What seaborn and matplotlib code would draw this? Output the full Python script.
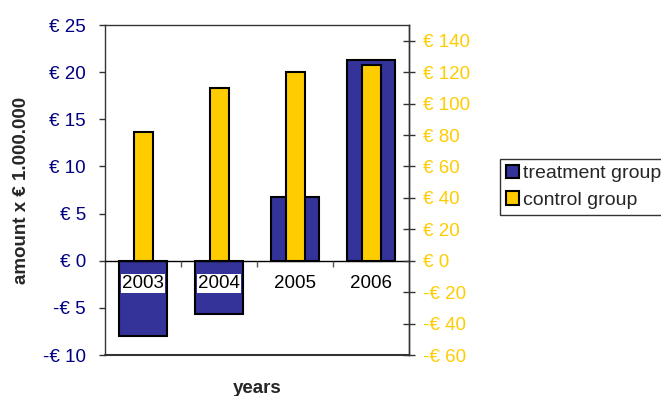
import matplotlib
matplotlib.use("Agg")
import matplotlib.pyplot as plt
from matplotlib.patches import Patch
import seaborn as sns
import pandas as pd

years = ["2003", "2004", "2005", "2006"]
treatment = [-8.0, -5.6, 6.75, 21.3]        # left axis, € x 1.000.000
control = [82, 110, 120, 124.5]             # right axis, € x 1.000.000
left_ticks = [-10, -5, 0, 5, 10, 15, 20, 25]
right_ticks = [-60, -40, -20, 0, 20, 40, 60, 80, 100, 120, 140]

BLUE = "#333399"
GOLD = "#FFCC00"
NAVY = "#000080"
FS = 13.5

sns.set_theme(style="white")
plt.rcParams["font.family"] = ["Liberation Sans", "DejaVu Sans"]


def euro(v):
    return f"€ {v}" if v >= 0 else f"-€ {abs(v)}"


df = pd.DataFrame({"year": years, "treatment": treatment, "control": control})

fig = plt.figure(figsize=(6.61, 3.96), dpi=100)
ax = fig.add_axes([105 / 661, 1 - 355 / 396, 304 / 661, 330 / 396])
ax2 = ax.twinx()

sns.barplot(data=df, x="year", y="treatment", ax=ax, color=BLUE, saturation=1,
            width=0.62, edgecolor="black", linewidth=1.5)
sns.barplot(data=df, x="year", y="control", ax=ax2, color=GOLD, saturation=1,
            width=0.25, edgecolor="black", linewidth=1.5)

ax.set_xlim(-0.5, 3.5)
ax.set_ylim(-10, 25)
ax2.set_ylim(-60, 150)
ax.set_axisbelow(False)

# left axis
ax.set_yticks(left_ticks)
ax.set_yticklabels([euro(v) for v in left_ticks], color=NAVY, fontsize=FS)
ax.tick_params(axis="y", which="major", direction="out", length=4.3, width=1,
               color="#333333", pad=9.5, left=True)

# category axis sits on the zero line
ax.spines["bottom"].set_position(("data", 0))
ax.spines["bottom"].set_color("black")
ax.spines["bottom"].set_linewidth(1)
ax.set_xticks(range(len(years)))
ax.set_xticklabels(years, fontsize=FS, color="black")
ax.set_xticks([0.5, 1.5, 2.5], minor=True)
ax.tick_params(axis="x", which="major", length=0, pad=10.5)
ax.tick_params(axis="x", which="minor", direction="out", length=4, width=1,
               color="#555555", bottom=True)
for lab in ax.get_xticklabels():
    lab.set_bbox(dict(facecolor="white", edgecolor="none", pad=0.8))

# frame
for s in ("left", "top", "right"):
    ax.spines[s].set_visible(True)
    ax.spines[s].set_color("#333333")
    ax.spines[s].set_linewidth(1)
ax.axhline(-10, color="#333333", lw=1.5, clip_on=False, zorder=3)

# right axis
for s in ("left", "top", "bottom"):
    ax2.spines[s].set_visible(False)
ax2.spines["right"].set_visible(True)
ax2.spines["right"].set_color("#333333")
ax2.spines["right"].set_linewidth(1)
ax2.set_yticks(right_ticks)
ax2.set_yticklabels([euro(v) for v in right_ticks], color=GOLD, fontsize=FS)
ax2.tick_params(axis="y", direction="inout", length=8.5, width=1,
                color="#333333", pad=5.5, right=True)

ax.set_xlabel("")
ax.set_ylabel("")
ax2.set_xlabel("")
ax2.set_ylabel("")
fig.text(22 / 661, 1 - 190 / 396, "amount x € 1.000.000", rotation=90,
         ha="center", va="center", fontsize=FS, fontweight="bold")
fig.text(257 / 661, 1 - 393 / 396, "years", ha="center", va="baseline",
         fontsize=FS, fontweight="bold")

handles = [Patch(facecolor=BLUE, edgecolor="black", linewidth=1.5, label="treatment group"),
           Patch(facecolor=GOLD, edgecolor="black", linewidth=1.5, label="control group")]
leg = fig.legend(handles=handles, loc="upper left",
                 bbox_to_anchor=(500 / 661, 1 - 159 / 396), borderaxespad=0,
                 fontsize=14, frameon=True, fancybox=False, handlelength=0.7,
                 handleheight=0.7, handletextpad=0.2, labelspacing=0.45,
                 borderpad=0.3)
leg.get_frame().set_edgecolor("black")
leg.get_frame().set_linewidth(1)

fig.savefig("out.png", dpi=100)
